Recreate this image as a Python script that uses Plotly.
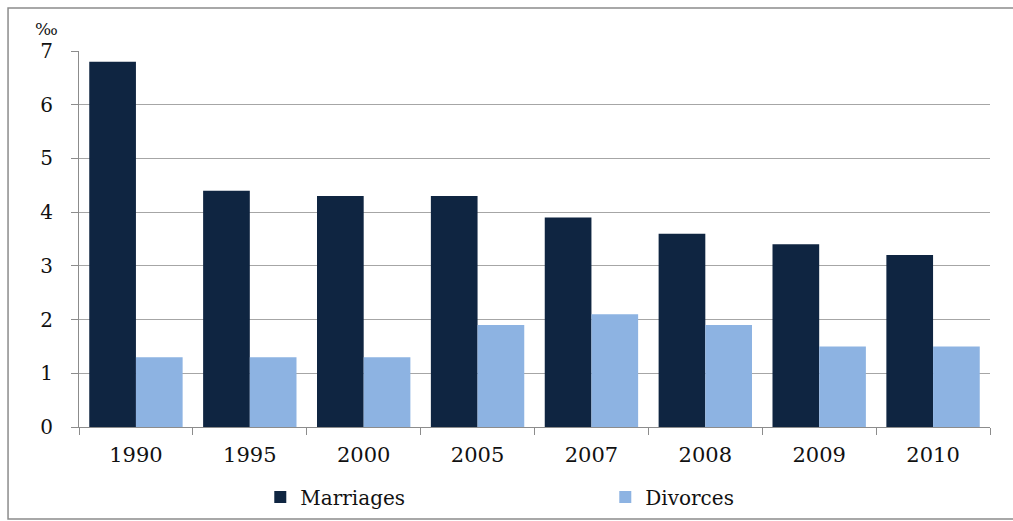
import plotly.graph_objects as go

years = ["1990", "1995", "2000", "2005", "2007", "2008", "2009", "2010"]
marriages = [6.8, 4.4, 4.3, 4.3, 3.9, 3.6, 3.4, 3.2]
divorces = [1.3, 1.3, 1.3, 1.9, 2.1, 1.9, 1.5, 1.5]
y_ticks = [0, 1, 2, 3, 4, 5, 6, 7]

FONT = "DejaVu Serif"

fig = go.Figure()
fig.add_trace(go.Bar(x=years, y=marriages, name="Marriages",
                     marker=dict(color="#0F2541", line=dict(width=0))))
fig.add_trace(go.Bar(x=years, y=divorces, name="Divorces",
                     marker=dict(color="#8DB3E2", line=dict(width=0))))

fig.update_layout(
    width=1013, height=521,
    margin=dict(l=79, r=23, t=51, b=94, autoexpand=False),
    paper_bgcolor="white", plot_bgcolor="white",
    barmode="group", bargap=0.18, bargroupgap=0,
    font=dict(family=FONT, color="#111111", size=19),
    showlegend=True,
    legend=dict(orientation="h", x=0.199, xanchor="left", y=-0.186, yanchor="middle",
                font=dict(family=FONT, size=20, color="#111111"),
                entrywidth=300, traceorder="normal", bgcolor="rgba(0,0,0,0)"),
    xaxis=dict(type="category", showgrid=False, showline=True, linecolor="#8C8C8C", linewidth=1,
               ticks="outside", tickson="boundaries", ticklen=7, tickcolor="#8C8C8C",
               automargin=False,
               tickfont=dict(family=FONT, size=21, color="#111111"), ticklabelstandoff=9),
    yaxis=dict(range=[0, 7], tickvals=y_ticks, showgrid=True, gridcolor="#A6A6A6", gridwidth=1,
               showline=True, linecolor="#8C8C8C", linewidth=1, ticks="outside", ticklen=7,
               tickcolor="#8C8C8C", zeroline=False, automargin=False,
               tickfont=dict(family=FONT, size=20, color="#111111"), ticklabelstandoff=14),
    shapes=[dict(type="rect", xref="paper", yref="paper", x0=-0.0779, x1=1.05, y0=-0.245, y1=1.1144,
                 line=dict(color="#8C8C8C", width=1.5), layer="below")],
    annotations=[dict(text="‰", xref="paper", yref="paper", x=-0.036, y=1.058, showarrow=False,
                      xanchor="center", yanchor="middle", font=dict(family=FONT, size=17, color="#111111"))],
)

fig.write_html("out.html")
